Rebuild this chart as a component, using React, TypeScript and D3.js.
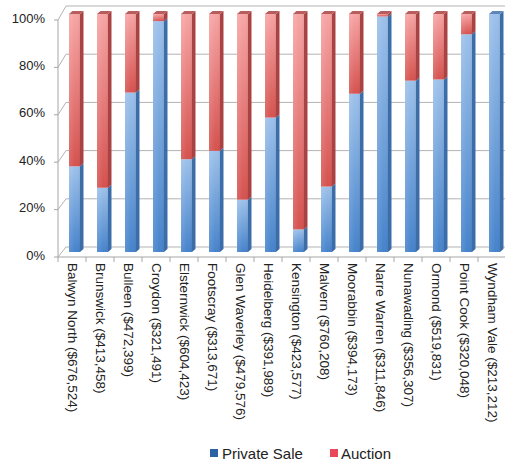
import React from "react";
import * as d3 from "d3";

const categories = [
  "Balwyn North ($676,524)",
  "Brunswick ($413,458)",
  "Bulleen ($472,399)",
  "Croydon ($321,491)",
  "Elsternwick ($604,423)",
  "Footscray ($313,671)",
  "Glen Waverley ($479,576)",
  "Heidelberg ($391,989)",
  "Kensington ($423,577)",
  "Malvern ($760,208)",
  "Moorabbin ($394,173)",
  "Narre Warren ($311,846)",
  "Nunawading ($356,307)",
  "Ormond ($519,831)",
  "Point Cook ($320,048)",
  "Wyndham Vale ($213,212)",
];
const privateSale = [36, 27, 67, 97, 39, 42.5, 22, 56.5, 9.5, 27.5, 66.5, 99, 72, 72.5, 91.5, 100];
const auction = [64, 73, 33, 3, 61, 57.5, 78, 43.5, 90.5, 72.5, 33.5, 1, 28, 27.5, 8.5, 0];
const seriesNames = ["Private Sale", "Auction"];
const yTicks = [0, 20, 40, 60, 80, 100];

const W = 505;
const H = 464;
const FONT = "'Liberation Sans', Arial, Helvetica, sans-serif";

const colors = {
  "Private Sale": { light: "#9dc1ea", dark: "#4683cb", side: "#3b6ea8", cap: "#5f86b8", legend: "#2b62a6" },
  Auction: { light: "#f7a5a5", dark: "#d5524f", side: "#a94343", cap: "#b85d5d", legend: "#e8485a" },
};

export default function App() {
  const rows = categories.map((c, i) => ({ cat: c, "Private Sale": privateSale[i], Auction: auction[i] }));
  const stack = d3.stack<any>().keys(seriesNames);
  const stacked = stack(rows);

  const x = d3.scaleBand<string>().domain(categories).range([58, 506]).padding(0);
  const yBar = d3.scaleLinear().domain([0, 100]).range([252, 14]);
  const yFront = d3.scaleLinear().domain([0, 100]).range([257, 20]);
  const yBack = d3.scaleLinear().domain([0, 100]).range([247, 6]);
  const backDx = 8;
  const axisX = 58;

  const barW = 11;
  const dx = 3.5;
  const dy = -3;

  const topKey = (i: number) => (auction[i] > 0 ? "Auction" : "Private Sale");

  return (
    <div style={{ position: "fixed", left: 0, top: 0 }}>
      <svg width={W} height={H} style={{ display: "block", background: "#fff" }}>
        <defs>
          {seriesNames.map((s) => (
            <linearGradient key={s} id={"g-" + s.replace(" ", "")} x1="0" y1="0" x2="0" y2="1">
              <stop offset="0" stopColor={(colors as any)[s].light} />
              <stop offset="1" stopColor={(colors as any)[s].dark} />
            </linearGradient>
          ))}
          {seriesNames.map((s) => (
            <linearGradient key={s + "h"} id={"h-" + s.replace(" ", "")} x1="0" y1="0" x2="1" y2="0">
              <stop offset="0" stopColor="#fff" stopOpacity={0.12} />
              <stop offset="0.6" stopColor="#fff" stopOpacity={0} />
              <stop offset="1" stopColor="#000" stopOpacity={0.06} />
            </linearGradient>
          ))}
        </defs>

        {/* grid on back wall */}
        {yTicks.map((t) => (
          <g key={"g" + t}>
            <line x1={axisX} y1={yFront(t)} x2={axisX + backDx} y2={yBack(t)} stroke="#b3b3b3" strokeWidth={1} />
            <line x1={axisX + backDx} y1={yBack(t)} x2={W} y2={yBack(t)} stroke="#b3b3b3" strokeWidth={1} />
          </g>
        ))}
        {/* floor front edge */}
        <line x1={axisX} y1={yFront(0)} x2={W} y2={yFront(0)} stroke="#a6a6a6" strokeWidth={1} />
        {/* front vertical axis */}
        <line x1={axisX} y1={yFront(100)} x2={axisX} y2={yFront(0) + 5} stroke="#a6a6a6" strokeWidth={1} />
        {yTicks.map((t) => (
          <line key={"t" + t} x1={axisX - 4} y1={yFront(t)} x2={axisX} y2={yFront(t)} stroke="#a6a6a6" />
        ))}
        {categories.map((c, i) => (
          <line key={"xt" + i} x1={(x(c) as number) + x.bandwidth()} y1={yFront(0)} x2={(x(c) as number) + x.bandwidth()} y2={yFront(0) + 5} stroke="#a6a6a6" />
        ))}

        {/* bars */}
        {categories.map((c, i) => {
          const bx = (x(c) as number) + (x.bandwidth() - barW) / 2 + 2.5;
          const tk = topKey(i);
          const yT = yBar(100);
          return (
            <g key={"b" + i}>
              {stacked.map((layer) => {
                const d = layer[i];
                if (d[1] - d[0] <= 0) return null;
                const s = layer.key;
                const y0 = yBar(d[0]);
                const y1 = yBar(d[1]);
                const id = s.replace(" ", "");
                return (
                  <g key={s}>
                    <rect x={bx} y={y1} width={barW} height={y0 - y1} fill={`url(#g-${id})`} />
                    <rect x={bx} y={y1} width={barW} height={y0 - y1} fill={`url(#h-${id})`} />
                    <polygon
                      points={`${bx + barW},${y0} ${bx + barW + dx},${y0 + dy} ${bx + barW + dx},${y1 + dy} ${bx + barW},${y1}`}
                      fill={(colors as any)[s].side}
                    />
                  </g>
                );
              })}
              <polygon
                points={`${bx},${yT} ${bx + dx},${yT + dy} ${bx + barW + dx},${yT + dy} ${bx + barW},${yT}`}
                fill={(colors as any)[tk].cap}
              />
            </g>
          );
        })}

        {/* y labels */}
        {yTicks.map((t) => (
          <text
            key={"yl" + t}
            x={45}
            y={yFront(t) - 2}
            textAnchor="end"
            dominantBaseline="central"
            fontFamily={FONT}
            fontSize={13}
            fill="#222"
          >
            {t}%
          </text>
        ))}

        {/* x labels */}
        {categories.map((c, i) => {
          const cx = (x(c) as number) + x.bandwidth() / 2;
          return (
            <text
              key={"xl" + i}
              transform={`translate(${cx},263) rotate(90)`}
              x={0}
              y={0}
              dominantBaseline="central"
              fontFamily={FONT}
              fontSize={13.5}
              fill="#222"
            >
              {c}
            </text>
          );
        })}

        {/* legend */}
        <g>
          <rect x={210} y={449} width={8} height={8} fill={colors["Private Sale"].legend} />
          <text x={222} y={453} dominantBaseline="central" fontFamily={FONT} fontSize={15} fill="#222">
            {seriesNames[0]}
          </text>
          <rect x={330} y={449} width={8} height={8} fill={colors.Auction.legend} />
          <text x={341} y={453} dominantBaseline="central" fontFamily={FONT} fontSize={15} fill="#222">
            {seriesNames[1]}
          </text>
        </g>
      </svg>
    </div>
  );
}
